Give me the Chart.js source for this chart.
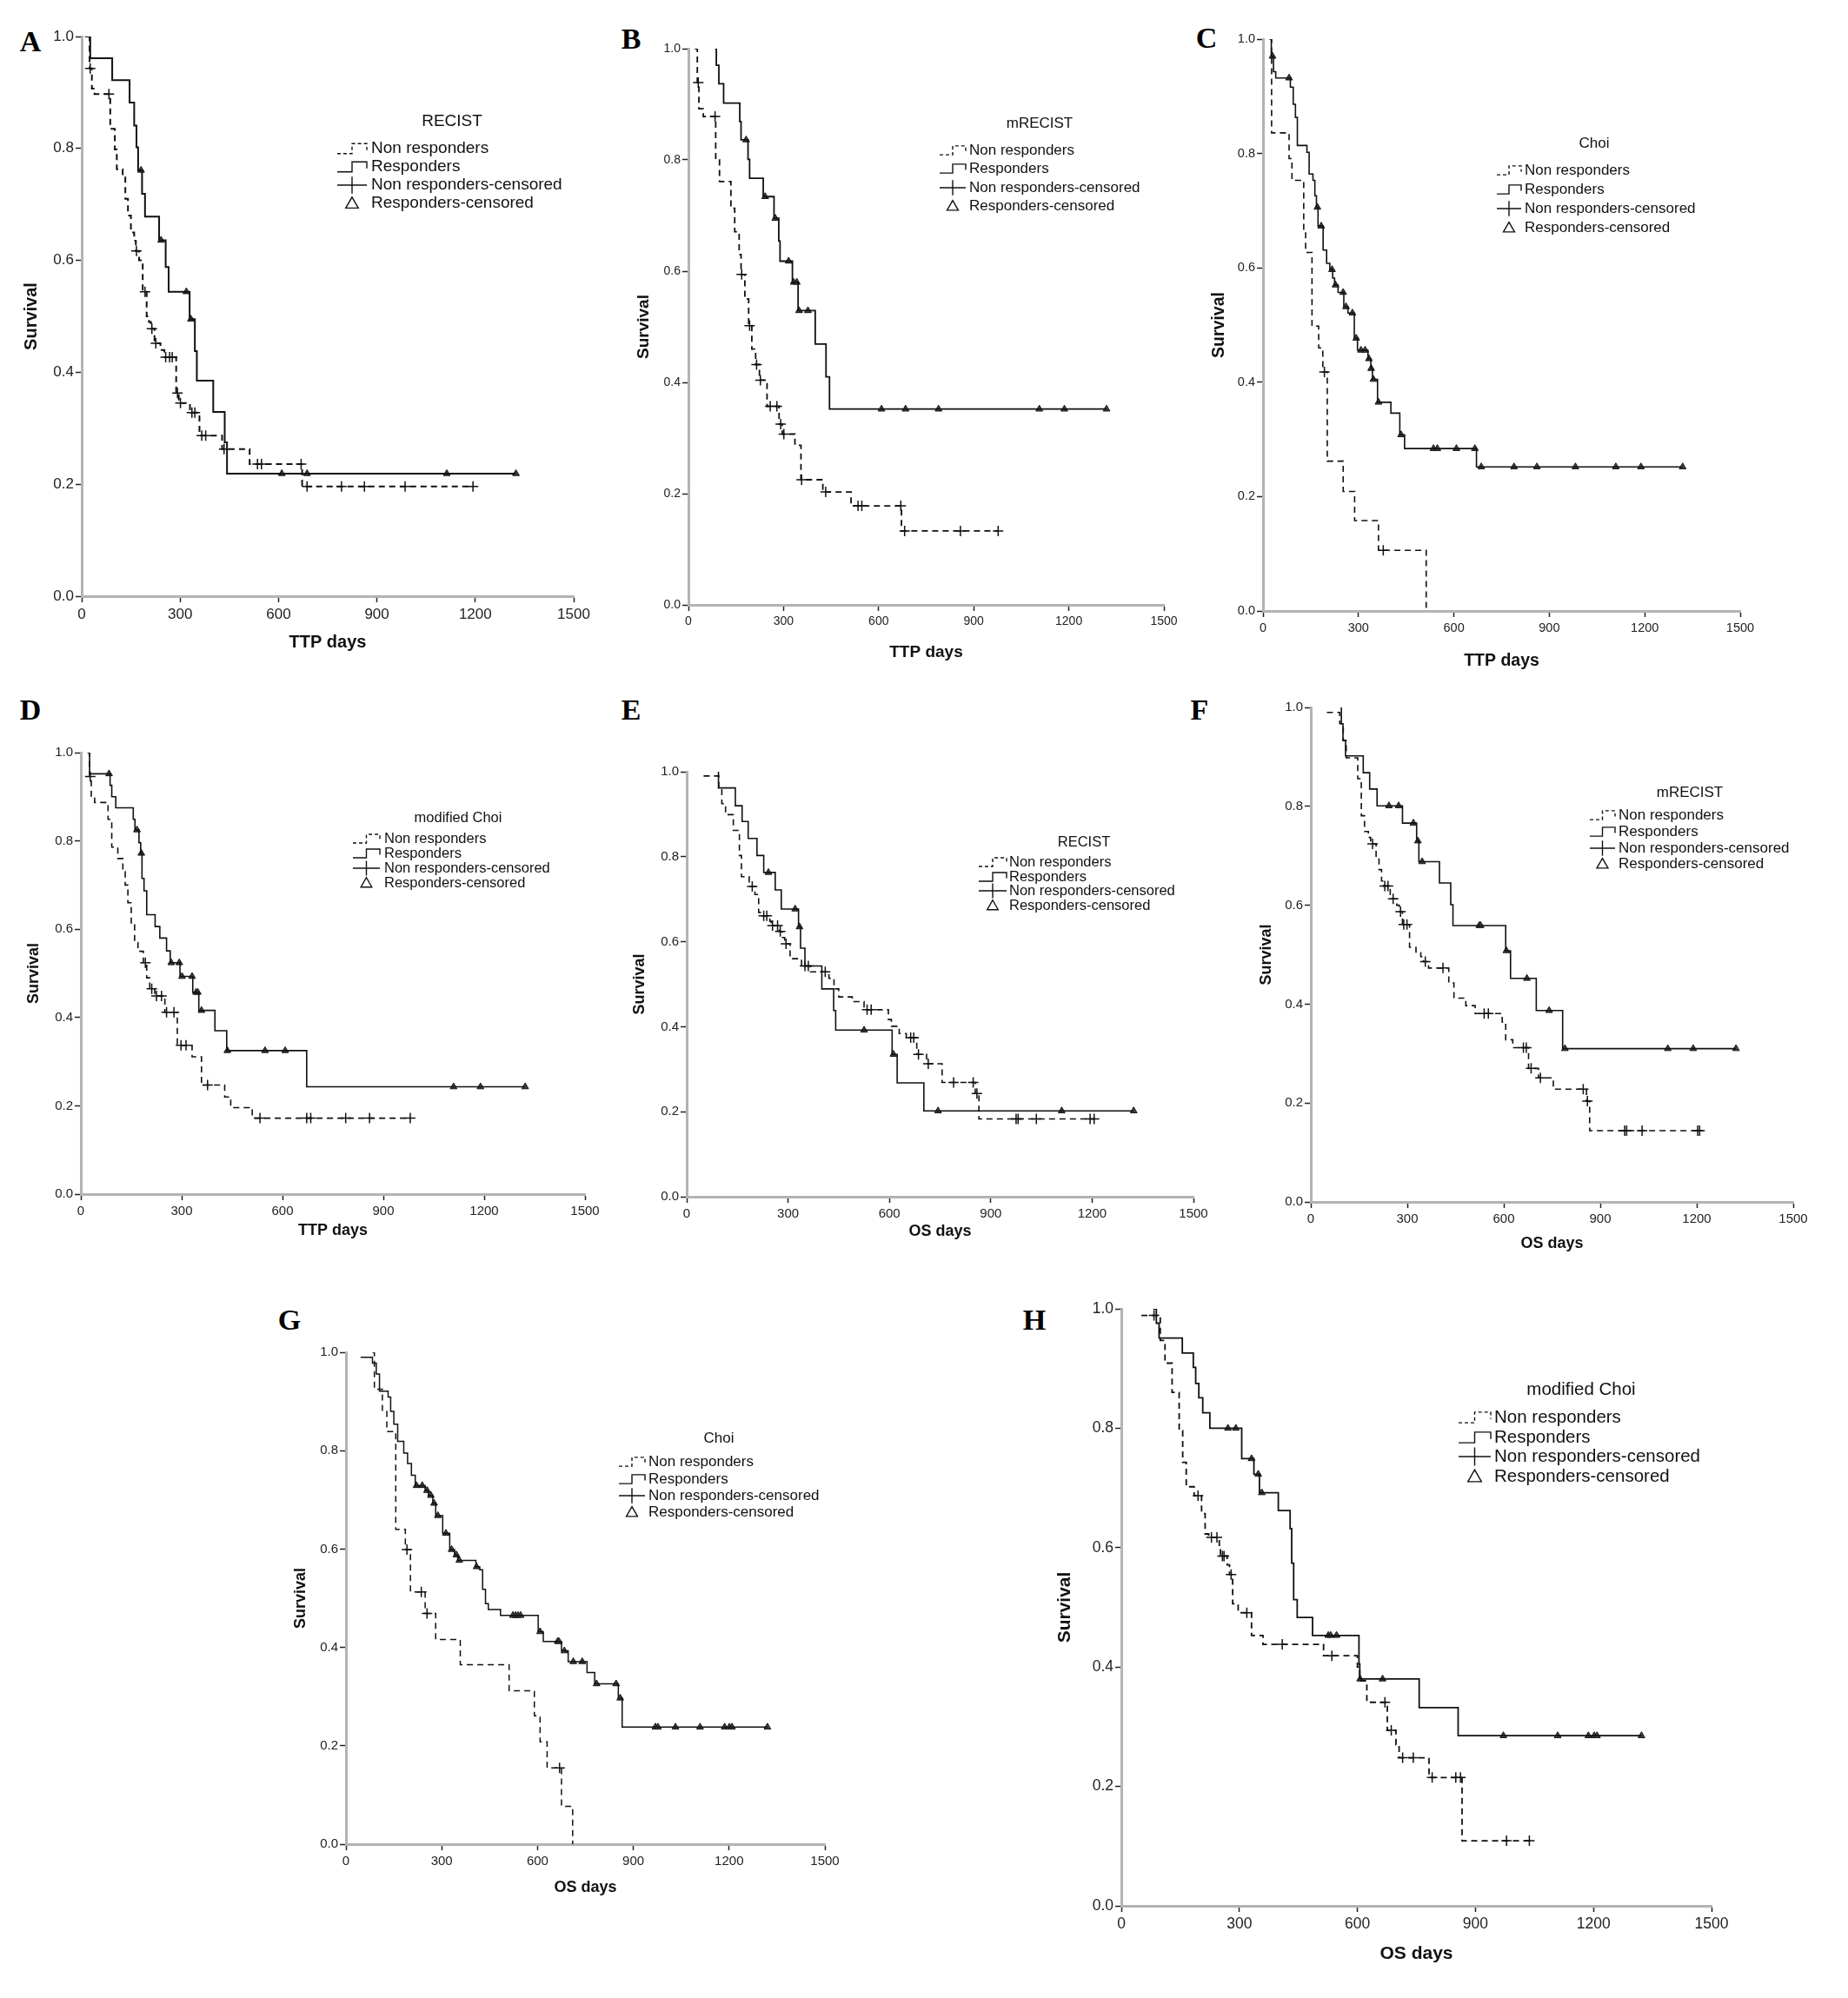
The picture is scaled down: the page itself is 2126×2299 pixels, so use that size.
<!DOCTYPE html>
<html lang="en">
<head>
<meta charset="UTF-8">
<title>Kaplan-Meier curves</title>
<style>
  body { margin: 0; background: #fff; }
  #page { position: relative; width: 2126px; height: 2299px; overflow: hidden; background: #fff; }
  #page canvas { position: absolute; }
  .tag {
    position: absolute;
    font-family: "Liberation Serif", "Times New Roman", serif;
    font-weight: bold;
    font-size: 34px;
    line-height: 1;
    transform: translate(-50%, -50%);
    color: #000;
  }
</style>
</head>
<body>
<div id="page"></div>
<script src="https://cdn.jsdelivr.net/npm/chart.js"></script>
<script>
// ---- data: step times (days), survival after each step, censor times ----
// A  TTP / RECIST
const A_respT = [10, 26, 93, 146, 160, 167, 172, 184, 193, 236, 256, 265, 329, 345, 351, 401, 436, 443];
const A_respS = [1.0, 0.961, 0.922, 0.882, 0.841, 0.802, 0.761, 0.719, 0.678, 0.636, 0.588, 0.544, 0.495, 0.438, 0.385, 0.329, 0.275, 0.219];
const A_respC = [181, 242, 319, 333, 610, 687, 1113, 1324];
const A_nonT = [20, 24, 31, 39, 87, 101, 107, 125, 133, 141, 150, 160, 165, 175, 186, 198, 205, 211, 222, 240, 252, 288, 296, 330, 359, 428, 512, 672];
const A_nonS = [1.0, 0.943, 0.907, 0.897, 0.835, 0.798, 0.763, 0.75, 0.71, 0.68, 0.65, 0.635, 0.617, 0.60, 0.544, 0.50, 0.49, 0.478, 0.452, 0.44, 0.427, 0.363, 0.345, 0.328, 0.287, 0.263, 0.236, 0.196];
const A_nonC = [26, 83, 167, 193, 214, 226, 256, 268, 276, 292, 301, 336, 345, 366, 378, 434, 536, 548, 669, 687, 792, 862, 986, 1193];

// B  TTP / mRECIST
const B_respT = [84, 88, 96, 111, 162, 166, 188, 193, 236, 270, 285, 289, 328, 346, 400, 434, 445];
const B_respS = [1.0, 0.970, 0.937, 0.902, 0.869, 0.836, 0.801, 0.767, 0.734, 0.695, 0.654, 0.618, 0.580, 0.529, 0.469, 0.410, 0.352];
const B_respC = [182, 242, 274, 316, 332, 342, 349, 377, 609, 685, 789, 1107, 1186, 1319];
const B_nonT = [20, 28, 33, 47, 86, 98, 134, 146, 160, 166, 178, 190, 200, 212, 224, 248, 286, 296, 336, 355, 424, 513, 672];
const B_nonS = [1.0, 0.939, 0.892, 0.878, 0.80, 0.761, 0.713, 0.671, 0.63, 0.594, 0.55, 0.502, 0.46, 0.432, 0.404, 0.357, 0.325, 0.307, 0.287, 0.225, 0.203, 0.178, 0.133];
const B_nonC = [31, 84, 168, 193, 215, 227, 258, 279, 291, 301, 357, 433, 535, 547, 670, 682, 858, 977];

// C  TTP / Choi
const C_respT = [24, 26, 33, 40, 86, 95, 102, 108, 138, 145, 157, 163, 168, 173, 189, 200, 210, 219, 225, 236, 254, 267, 287, 297, 330, 339, 344, 360, 402, 430, 445, 671];
const C_respS = [1.0, 0.970, 0.943, 0.932, 0.916, 0.886, 0.863, 0.814, 0.802, 0.764, 0.753, 0.726, 0.706, 0.673, 0.631, 0.608, 0.597, 0.582, 0.570, 0.557, 0.532, 0.521, 0.477, 0.456, 0.441, 0.424, 0.405, 0.365, 0.346, 0.308, 0.284, 0.252];
const C_respC = [30, 82, 171, 183, 217, 228, 252, 261, 281, 293, 308, 321, 333, 340, 347, 363, 434, 536, 548, 608, 666, 686, 789, 861, 982, 1109, 1188, 1319];
const C_nonT = [20, 27, 82, 91, 128, 134, 154, 175, 188, 202, 252, 288, 363, 513];
const C_nonS = [1.0, 0.836, 0.791, 0.753, 0.665, 0.627, 0.498, 0.460, 0.418, 0.262, 0.209, 0.158, 0.106, 0.0];
const C_nonC = [193, 378];

// D  TTP / modified Choi
const D_respT = [20, 26, 87, 92, 104, 156, 161, 173, 178, 182, 188, 196, 221, 235, 255, 266, 295, 333, 351, 399, 434, 672];
const D_respS = [1.0, 0.952, 0.926, 0.900, 0.875, 0.849, 0.825, 0.796, 0.772, 0.715, 0.687, 0.633, 0.606, 0.580, 0.551, 0.524, 0.493, 0.457, 0.416, 0.370, 0.325, 0.243];
const D_respC = [84, 167, 180, 269, 293, 301, 331, 343, 348, 359, 436, 548, 608, 1109, 1189, 1322];
const D_nonT = [20, 26, 31, 41, 81, 92, 110, 125, 132, 140, 150, 160, 170, 186, 196, 205, 220, 250, 287, 331, 359, 428, 446, 510];
const D_nonS = [1.0, 0.946, 0.897, 0.887, 0.849, 0.786, 0.76, 0.73, 0.70, 0.66, 0.61, 0.57, 0.55, 0.524, 0.49, 0.465, 0.449, 0.412, 0.337, 0.311, 0.247, 0.220, 0.196, 0.172];
const D_nonC = [28, 192, 211, 225, 240, 255, 277, 298, 313, 377, 533, 672, 684, 788, 859, 980];

// E  OS / RECIST
const E_respT = [92, 94, 144, 164, 182, 208, 228, 262, 280, 331, 337, 350, 400, 435, 441, 608, 623, 702];
const E_respS = [1.0, 0.962, 0.920, 0.883, 0.843, 0.803, 0.763, 0.722, 0.677, 0.635, 0.585, 0.543, 0.489, 0.438, 0.392, 0.335, 0.268, 0.202];
const E_respC = [242, 321, 334, 525, 612, 744, 1110, 1323];
const E_nonT = [50, 95, 104, 115, 138, 156, 162, 185, 202, 213, 222, 246, 250, 274, 283, 290, 306, 340, 366, 421, 436, 450, 490, 525, 597, 606, 629, 650, 681, 710, 756, 854, 865];
const E_nonS = [0.99, 0.962, 0.925, 0.899, 0.862, 0.803, 0.753, 0.730, 0.711, 0.669, 0.661, 0.648, 0.638, 0.624, 0.610, 0.595, 0.560, 0.543, 0.529, 0.514, 0.489, 0.470, 0.459, 0.440, 0.417, 0.401, 0.384, 0.374, 0.335, 0.313, 0.269, 0.243, 0.183];
const E_nonC = [194, 228, 237, 254, 269, 277, 294, 350, 360, 410, 534, 546, 663, 672, 686, 715, 790, 848, 859, 975, 981, 1035, 1194, 1206];

// F  OS / mRECIST
const F_respT = [93, 95, 100, 108, 163, 183, 206, 285, 329, 336, 400, 435, 442, 606, 621, 701, 783];
const F_respS = [1.0, 0.967, 0.933, 0.902, 0.868, 0.835, 0.801, 0.766, 0.730, 0.688, 0.645, 0.601, 0.559, 0.508, 0.452, 0.387, 0.310];
const F_respC = [243, 273, 319, 333, 346, 524, 528, 608, 672, 741, 790, 1110, 1189, 1322];
const F_nonT = [50, 90, 101, 110, 146, 157, 167, 179, 186, 203, 212, 220, 226, 247, 252, 267, 275, 285, 307, 327, 342, 350, 366, 429, 445, 482, 511, 595, 606, 628, 677, 708, 754, 857, 867];
const F_nonS = [0.99, 0.967, 0.933, 0.898, 0.856, 0.781, 0.749, 0.737, 0.724, 0.699, 0.672, 0.649, 0.639, 0.622, 0.613, 0.600, 0.587, 0.561, 0.515, 0.504, 0.496, 0.486, 0.473, 0.443, 0.412, 0.397, 0.381, 0.364, 0.328, 0.312, 0.270, 0.251, 0.228, 0.204, 0.144];
const F_nonC = [192, 230, 240, 256, 279, 289, 299, 356, 411, 539, 552, 661, 670, 685, 714, 847, 860, 976, 982, 1030, 1203, 1209];

// G  OS / Choi
const G_respT = [46, 83, 95, 105, 132, 140, 150, 162, 181, 193, 205, 217, 248, 258, 272, 281, 303, 325, 340, 350, 407, 419, 428, 437, 446, 484, 602, 618, 675, 696, 755, 779, 853, 865];
const G_respS = [0.99, 0.978, 0.956, 0.921, 0.909, 0.880, 0.854, 0.819, 0.795, 0.774, 0.750, 0.729, 0.719, 0.709, 0.693, 0.668, 0.632, 0.599, 0.588, 0.577, 0.564, 0.558, 0.518, 0.489, 0.477, 0.465, 0.432, 0.412, 0.393, 0.371, 0.349, 0.326, 0.297, 0.238];
const G_respC = [221, 239, 254, 266, 276, 288, 313, 331, 346, 355, 409, 523, 531, 539, 547, 608, 663, 667, 684, 712, 740, 785, 846, 859, 969, 977, 1032, 1109, 1186, 1201, 1209, 1320];
const G_nonT = [83, 89, 114, 128, 156, 186, 202, 248, 281, 358, 511, 590, 608, 630, 675, 710];
const G_nonS = [1.0, 0.925, 0.880, 0.839, 0.640, 0.599, 0.513, 0.469, 0.416, 0.365, 0.312, 0.261, 0.208, 0.155, 0.077, 0.0];
const G_nonC = [191, 236, 254, 669];

// H  OS / modified Choi
const H_respT = [81, 89, 96, 155, 183, 189, 197, 207, 225, 306, 337, 351, 399, 429, 433, 438, 447, 486, 604, 606, 757, 856];
const H_respS = [1.0, 0.976, 0.951, 0.926, 0.902, 0.875, 0.851, 0.826, 0.800, 0.749, 0.723, 0.692, 0.662, 0.632, 0.574, 0.513, 0.483, 0.453, 0.405, 0.380, 0.332, 0.285];
const H_respC = [271, 291, 331, 348, 357, 526, 532, 547, 607, 664, 971, 1109, 1187, 1202, 1209, 1322];
const H_nonT = [51, 99, 111, 129, 147, 156, 165, 185, 204, 213, 222, 249, 252, 269, 275, 283, 297, 331, 360, 514, 600, 606, 624, 676, 698, 706, 782, 866];
const H_nonS = [0.989, 0.947, 0.909, 0.860, 0.796, 0.743, 0.702, 0.687, 0.657, 0.623, 0.617, 0.600, 0.586, 0.571, 0.555, 0.506, 0.491, 0.453, 0.438, 0.419, 0.400, 0.377, 0.341, 0.294, 0.270, 0.248, 0.215, 0.109];
const H_nonC = [83, 195, 229, 243, 257, 261, 279, 319, 409, 535, 670, 686, 715, 742, 790, 850, 862, 979, 1037];

const legendLabels = ['Non responders', 'Responders', 'Non responders-censored', 'Responders-censored'];
const xTicks = [0, 300, 600, 900, 1200, 1500];

// ---- layout of the eight panels (page pixels) ----
const panels = [
  { tag: 'A', tagAt: [35, 48], box: [94, 42, 660, 686], ytx: 36, xty: 739, xTitle: 'TTP days',
    tick: 17, title: 20, lw: 2,
    legend: { title: 'RECIST', tx: 520, ty: 140, rows: [171, 192, 213, 234], sx: 388, sw: 34, textX: 427, font: 19 },
    resp: [A_respT, A_respS, A_respC], non: [A_nonT, A_nonS, A_nonC] },
  { tag: 'B', tagAt: [726, 45], box: [792, 56, 1339, 696], ytx: 740, xty: 751, xTitle: 'TTP days',
    tick: 14, title: 19, lw: 1.8,
    legend: { title: 'mRECIST', tx: 1196, ty: 142, rows: [173, 194, 216, 237], sx: 1081, sw: 30, textX: 1115, font: 17 },
    resp: [B_respT, B_respS, B_respC], non: [B_nonT, B_nonS, B_nonC] },
  { tag: 'C', tagAt: [1388, 44], box: [1453, 45, 2002, 703], ytx: 1403, xty: 760, xTitle: 'TTP days',
    tick: 14.5, title: 19.5, lw: 1.6,
    legend: { title: 'Choi', tx: 1834, ty: 165, rows: [196, 218, 240, 262], sx: 1722, sw: 28, textX: 1754, font: 17 },
    resp: [C_respT, C_respS, C_respC], non: [C_nonT, C_nonS, C_nonC] },
  { tag: 'D', tagAt: [35, 817], box: [93, 866, 673, 1374], ytx: 39, xty: 1416, xTitle: 'TTP days',
    tick: 15, title: 18, lw: 1.6,
    legend: { title: 'modified Choi', tx: 527, ty: 941, rows: [965, 982, 999, 1016], sx: 406, sw: 31, textX: 442, font: 16.5 },
    resp: [D_respT, D_respS, D_respC], non: [D_nonT, D_nonS, D_nonC] },
  { tag: 'E', tagAt: [726, 817], box: [790, 888, 1373, 1377], ytx: 736, xty: 1417, xTitle: 'OS days',
    tick: 15, title: 18, lw: 1.6,
    legend: { title: 'RECIST', tx: 1247, ty: 969, rows: [992, 1009, 1025, 1042], sx: 1126, sw: 32, textX: 1161, font: 16.5 },
    resp: [E_respT, E_respS, E_respC], non: [E_nonT, E_nonS, E_nonC] },
  { tag: 'F', tagAt: [1380, 817], box: [1508, 814, 2063, 1383], ytx: 1457, xty: 1431, xTitle: 'OS days',
    tick: 15, title: 18, lw: 1.6,
    legend: { title: 'mRECIST', tx: 1944, ty: 912, rows: [938, 957, 976, 994], sx: 1829, sw: 29, textX: 1862, font: 17 },
    resp: [F_respT, F_respS, F_respC], non: [F_nonT, F_nonS, F_nonC] },
  { tag: 'G', tagAt: [333, 1519], box: [398, 1556, 949, 2122], ytx: 346, xty: 2172, xTitle: 'OS days',
    tick: 15, title: 18, lw: 1.5,
    legend: { title: 'Choi', tx: 827, ty: 1655, rows: [1682, 1702, 1721, 1740], sx: 712, sw: 30, textX: 746, font: 17 },
    resp: [G_respT, G_respS, G_respC], non: [G_nonT, G_nonS, G_nonC] },
  { tag: 'H', tagAt: [1190, 1519], box: [1290, 1506, 1969, 2193], ytx: 1226, xty: 2248, xTitle: 'OS days',
    tick: 17.5, title: 21, lw: 1.8,
    legend: { title: 'modified Choi', tx: 1819, ty: 1599, rows: [1631, 1654, 1676, 1699], sx: 1678, sw: 37, textX: 1719, font: 20.5 },
    resp: [H_respT, H_respS, H_respC], non: [H_nonT, H_nonS, H_nonC] }
];

const FAMILY = '"Liberation Sans", Arial, Helvetica, sans-serif';
Chart.defaults.font.family = FAMILY;
Chart.defaults.color = '#222';

// step curve points, extended to the last censored time
function curve(t, s, c) {
  const pts = t.map((x, i) => ({ x, y: s[i] }));
  const last = t[t.length - 1];
  const end = Math.max(last, ...c);
  if (end > last) pts.push({ x: end, y: s[s.length - 1] });
  return pts;
}
// censor marks sit on the curve level at their time
function censored(t, s, c) {
  return c.map(x => {
    let y = s[0];
    for (let i = 0; i < t.length; i++) if (t[i] <= x) y = s[i];
    return { x, y };
  });
}

// legend drawn inside the plot, like the original
const kmLegend = {
  id: 'kmLegend',
  afterDraw(chart, args, o) {
    const ctx = chart.ctx;
    ctx.save();
    ctx.fillStyle = '#111';
    ctx.strokeStyle = '#111';
    ctx.font = o.font + 'px ' + FAMILY;
    ctx.textBaseline = 'middle';
    ctx.textAlign = 'center';
    ctx.fillText(o.title, o.tx - o.left, o.ty - o.top);
    ctx.textAlign = 'left';
    const x1 = o.sx - o.left, x2 = x1 + o.sw, xm = (x1 + x2) / 2, h = o.font * 0.3;
    legendLabels.forEach((lab, i) => {
      const y = o.rows[i] - o.top;
      ctx.fillText(lab, o.textX - o.left, y);
      ctx.lineWidth = 1.4;
      ctx.setLineDash(i === 0 ? [4, 3] : []);
      ctx.beginPath();
      if (i < 2) {
        ctx.moveTo(x1, y + h); ctx.lineTo(xm, y + h); ctx.lineTo(xm, y - h);
        ctx.lineTo(x2, y - h); ctx.lineTo(x2, y + h * 0.3);
      } else if (i === 2) {
        ctx.moveTo(x1, y); ctx.lineTo(x2, y);
        ctx.moveTo(xm, y - h * 1.7); ctx.lineTo(xm, y + h * 1.7);
      } else {
        const r = o.font * 0.38;
        ctx.moveTo(xm, y - r); ctx.lineTo(xm + r, y + r * 0.75); ctx.lineTo(xm - r, y + r * 0.75); ctx.closePath();
      }
      ctx.stroke();
    });
    ctx.restore();
  }
};

const page = document.getElementById('page');

panels.forEach(p => {
  const [x0, y1, x1, y0] = p.box;
  const left = Math.round(p.ytx - p.title * 0.6);
  const top = y1 - 14;
  const right = x1 + 32;
  const bottom = Math.round(p.xty + p.title * 0.6);

  const tag = document.createElement('div');
  tag.className = 'tag';
  tag.textContent = p.tag;
  tag.style.left = p.tagAt[0] + 'px';
  tag.style.top = p.tagAt[1] + 'px';
  page.appendChild(tag);

  const cv = document.createElement('canvas');
  cv.width = right - left;
  cv.height = bottom - top;
  cv.style.left = left + 'px';
  cv.style.top = top + 'px';
  page.appendChild(cv);

  const [rT, rS, rC] = p.resp;
  const [nT, nS, nC] = p.non;

  new Chart(cv, {
    type: 'line',
    data: {
      datasets: [
        { label: 'Non responders', data: curve(nT, nS, nC), stepped: 'before',
          borderColor: '#111', borderWidth: p.lw, borderDash: [7, 5], pointRadius: 0, fill: false },
        { label: 'Responders', data: curve(rT, rS, rC), stepped: 'before',
          borderColor: '#111', borderWidth: p.lw, pointRadius: 0, fill: false },
        { label: 'Non responders-censored', data: censored(nT, nS, nC), showLine: false,
          pointStyle: 'cross', pointRadius: 6, borderColor: '#111', pointBorderWidth: 1.5 },
        { label: 'Responders-censored', data: censored(rT, rS, rC), showLine: false,
          pointStyle: 'triangle', pointRadius: 4.5, borderColor: '#111', backgroundColor: '#444', pointBorderWidth: 1 }
      ]
    },
    options: {
      responsive: false,
      animation: false,
      devicePixelRatio: 1,
      layout: { padding: { top: 14, right: 32, left: 0, bottom: 0 } },
      plugins: {
        legend: { display: false },
        tooltip: { enabled: false },
        kmLegend: Object.assign({}, p.legend, { left, top })
      },
      scales: {
        x: {
          type: 'linear', min: 0, max: 1500,
          afterBuildTicks: s => { s.ticks = xTicks.map(v => ({ value: v })); },
          afterFit: s => { s.height = bottom - y0; },
          ticks: { font: { size: p.tick }, color: '#222', padding: 4, maxRotation: 0, callback: v => String(v) },
          grid: { drawOnChartArea: false, drawTicks: true, tickLength: 7, tickColor: '#222', tickWidth: 1.5 },
          border: { display: true, color: '#b3b3b3', width: 3 },
          title: { display: true, text: p.xTitle, color: '#111', padding: 0, font: { size: p.title, weight: 'bold' } }
        },
        y: {
          min: 0, max: 1,
          afterFit: s => { s.width = x0 - left; },
          ticks: { stepSize: 0.2, font: { size: p.tick }, color: '#222', padding: 2, callback: v => v.toFixed(1) },
          grid: { drawOnChartArea: false, drawTicks: true, tickLength: 7, tickColor: '#222', tickWidth: 1.5 },
          border: { display: true, color: '#b3b3b3', width: 3 },
          title: { display: true, text: 'Survival', color: '#111', padding: 0, font: { size: p.title, weight: 'bold' } }
        }
      }
    },
    plugins: [kmLegend]
  });
});
</script>
</body>
</html>
